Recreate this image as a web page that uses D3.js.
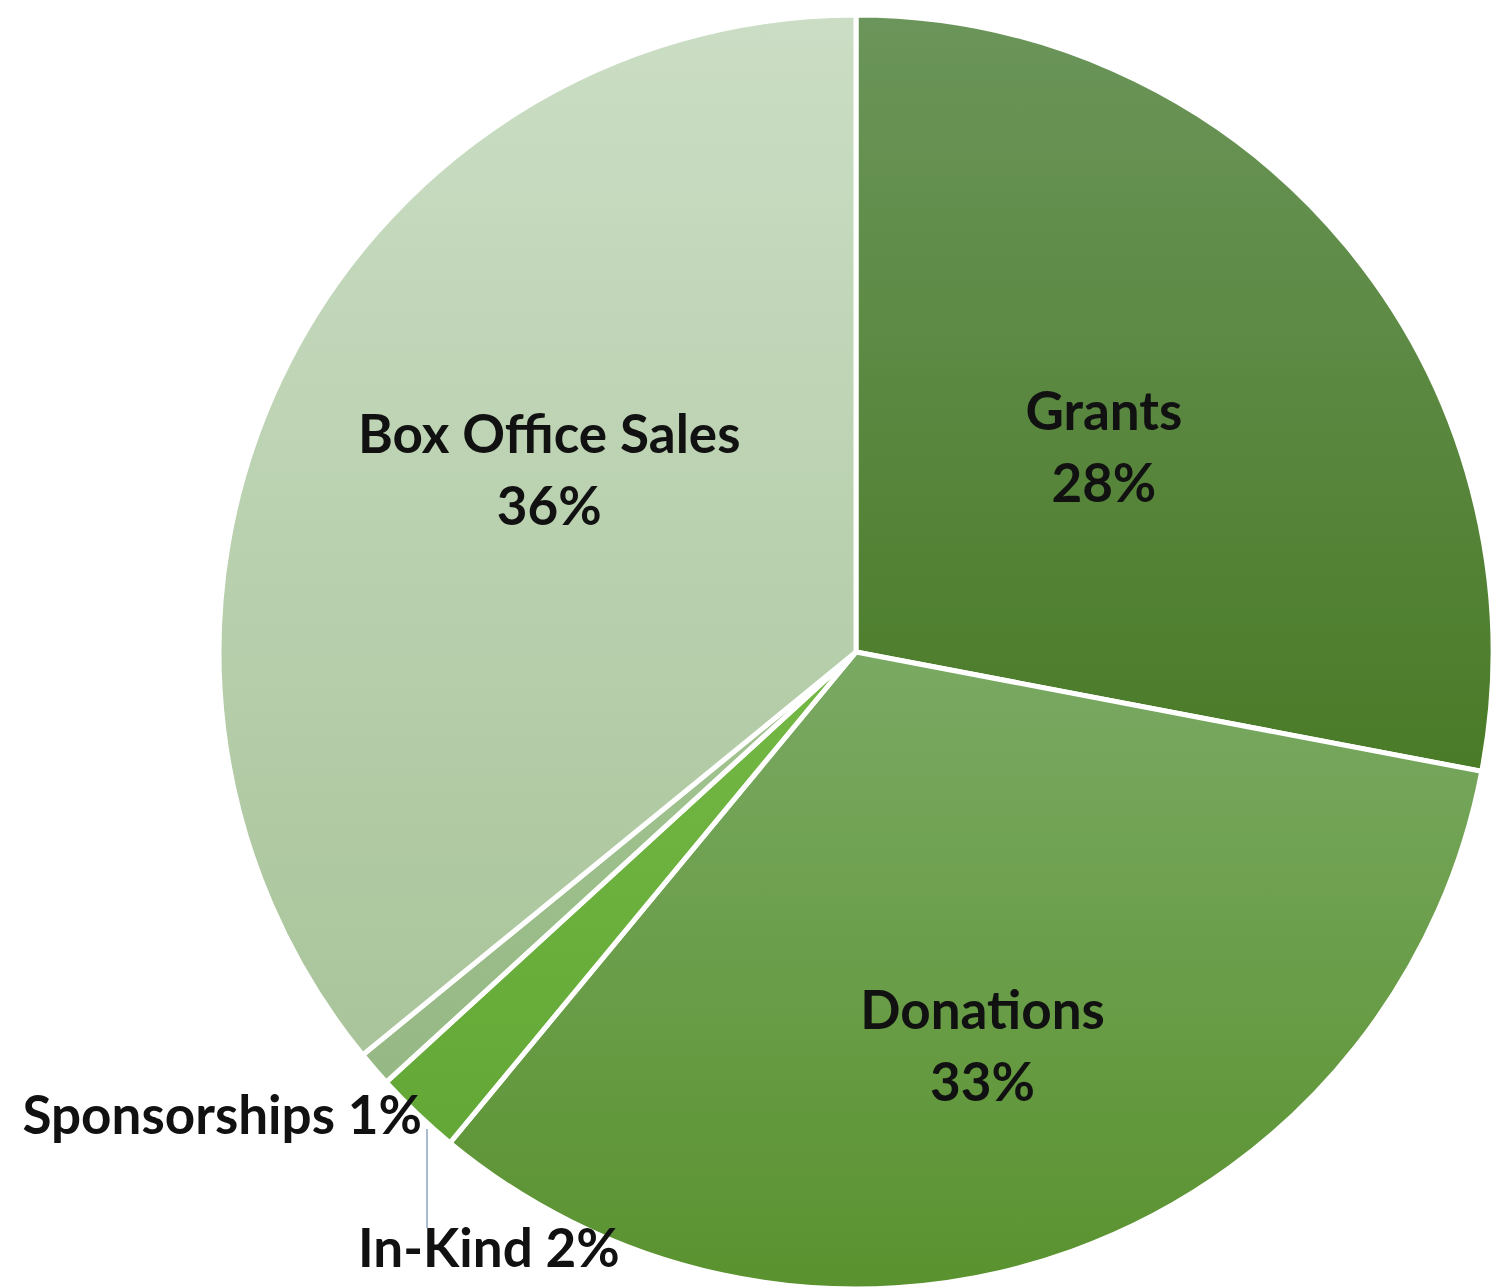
<!DOCTYPE html>
<html>
<head>
<meta charset="utf-8">
<script src="https://cdn.jsdelivr.net/npm/d3@7"></script>
<style>
  html, body { margin: 0; padding: 0; background: #ffffff; }
  svg { display: block; }
  text { font-family: Lato, "Open Sans", sans-serif; font-weight: 700; fill: #111; }
</style>
</head>
<body>
<svg id="chart" width="1494" height="1288"></svg>
<script>
const categories = ["Grants", "Donations", "In-Kind", "Sponsorships", "Box Office Sales"];
const values = [28, 33, 2.2, 0.9, 35.9];
const percentLabels = ["28%", "33%", "2%", "1%", "36%"];
const gradTop = ["#6b955a", "#7aa963", "#74b845", "#a3c592", "#cbdec5"];
const gradBottom = ["#4a7b27", "#5a922f", "#63a836", "#95b884", "#a9c49a"];

const svg = d3.select("#chart");
const cx = 856, cy = 652, R = 637;

const defs = svg.append("defs");
categories.forEach((c, i) => {
  const g = defs.append("linearGradient")
    .attr("id", "grad" + i)
    .attr("x1", 0).attr("y1", 0).attr("x2", 0).attr("y2", 1);
  g.append("stop").attr("offset", "0%").attr("stop-color", gradTop[i]);
  g.append("stop").attr("offset", "100%").attr("stop-color", gradBottom[i]);
});

const data = categories.map((c, i) => ({ name: c, value: values[i], label: percentLabels[i], i }));
const pie = d3.pie().value(d => d.value).sort(null);
const arcs = pie(data);
const arc = d3.arc().innerRadius(0).outerRadius(R);

const g = svg.append("g").attr("transform", `translate(${cx},${cy})`);
g.selectAll("path.slice")
  .data(arcs)
  .enter().append("path")
  .attr("class", "slice")
  .attr("d", arc)
  .attr("fill", d => `url(#grad${d.data.i})`)
  .attr("stroke", "#ffffff")
  .attr("stroke-width", 5)
  .attr("stroke-linejoin", "miter");

// inside labels: [radius fraction, angle offset in degrees]
const fontSize = 53;
const inside = { "Grants": [0.505, 0], "Donations": [0.65, 2], "Box Office Sales": [0.56, 5.3] };
arcs.forEach(a => {
  const nm = a.data.name;
  if (!(nm in inside)) return;
  const mid = (a.startAngle + a.endAngle) / 2 + inside[nm][1] * Math.PI / 180;
  const rr = R * inside[nm][0];
  const x = Math.sin(mid) * rr, y = -Math.cos(mid) * rr;
  const t = g.append("text")
    .attr("text-anchor", "middle")
    .attr("font-size", fontSize);
  t.append("tspan").attr("x", x).attr("y", y - 17).text(nm);
  t.append("tspan").attr("x", x).attr("y", y + 55).text(a.data.label);
});

// outside labels with leader line
const spons = arcs[3], inkind = arcs[2];
g.append("text")
  .attr("text-anchor", "end")
  .attr("font-size", fontSize)
  .attr("x", 422 - cx).attr("y", 1134 - cy)
  .text(spons.data.name + " " + spons.data.label);

const lx = 427 - cx;
const ly0 = Math.sqrt(R * R - lx * lx);
g.append("line")
  .attr("x1", lx).attr("x2", lx)
  .attr("y1", ly0 + 6).attr("y2", 1228 - cy)
  .attr("stroke", "#a9bbd1").attr("stroke-width", 2);
g.append("text")
  .attr("text-anchor", "start")
  .attr("font-size", fontSize)
  .attr("x", 358 - cx).attr("y", 1267 - cy)
  .text(inkind.data.name + " " + inkind.data.label);
</script>
</body>
</html>
